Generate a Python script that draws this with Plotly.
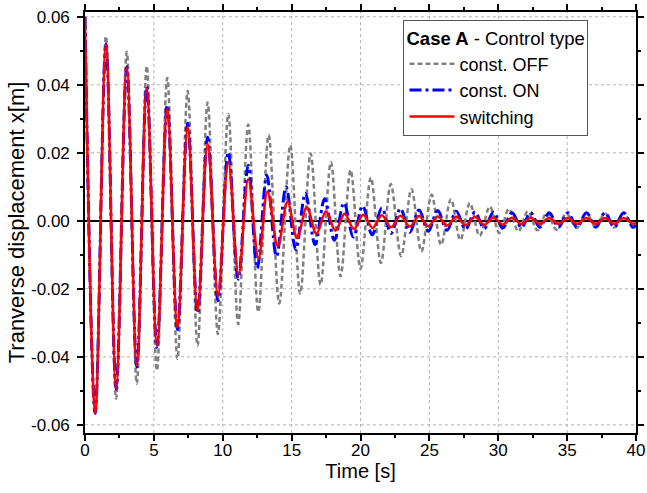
import plotly.graph_objects as go

# --- data (extrema of each response, interleaved peak/trough) ---
t_off = [0, 0.74, 1.52, 2.26, 3.03, 3.76, 4.48, 5.22, 5.97, 6.71, 7.45, 8.17, 8.90, 9.65,
         10.40, 11.12, 11.85, 12.58, 13.33, 14.10, 14.90, 15.62, 16.38, 17.10, 17.85, 18.55,
         19.28, 20.00, 20.75, 21.48, 22.20, 22.95, 23.70, 24.42, 25.16, 25.85, 26.56, 27.25,
         27.94, 28.65, 29.39, 30.08, 30.77, 31.46, 32.15, 32.85, 33.53, 34.22, 34.95, 35.70,
         36.40, 37.08, 37.75, 38.42, 39.10, 39.77, 40.00]
x_off = [0.0600, -0.0566, 0.0543, -0.0523, 0.0497, -0.0479, 0.0455, -0.0440, 0.0420, -0.0406,
         0.0382, -0.0367, 0.0348, -0.0333, 0.0314, -0.0304, 0.0283, -0.0268, 0.0252, -0.0243,
         0.0222, -0.0214, 0.0198, -0.0188, 0.0172, -0.0163, 0.0149, -0.0141, 0.0127, -0.0124,
         0.0108, -0.0104, 0.0093, -0.0090, 0.0077, -0.0071, 0.0063, -0.0056, 0.0052, -0.0044,
         0.0042, -0.0036, 0.0035, -0.0031, 0.0028, -0.0028, 0.0024, -0.0026, 0.0022, -0.0021,
         0.0023, -0.0020, 0.0023, -0.0020, 0.0023, -0.0020, -0.0012]

t_on = [0, 0.74, 1.52, 2.26, 3.03, 3.76, 4.48, 5.22, 5.97, 6.71, 7.45, 8.17, 8.90, 9.65,
        10.40, 11.12, 11.85, 12.50, 13.20, 13.90, 14.60, 15.30, 16.00, 16.70, 17.40, 18.10,
        18.80, 19.48, 20.15, 20.85, 21.55, 22.22, 22.90, 23.58, 24.25, 24.92, 25.60, 26.28,
        26.95, 27.62, 28.30, 28.98, 29.65, 30.32, 31.00, 31.68, 32.35, 33.02, 33.70, 34.38,
        35.05, 35.72, 36.40, 37.08, 37.75, 38.42, 39.10, 39.77, 40.00]
x_on = [0.0600, -0.0566, 0.0521, -0.0495, 0.0453, -0.0430, 0.0395, -0.0372, 0.0340, -0.0320,
        0.0287, -0.0272, 0.0246, -0.0235, 0.0202, -0.0172, 0.0163, -0.0140, 0.0134, -0.0105,
        0.0100, -0.0085, 0.0081, -0.0070, 0.0065, -0.0057, 0.0053, -0.0048, 0.0044, -0.0041,
        0.0038, -0.0037, 0.0036, -0.0034, 0.0032, -0.0031, 0.0030, -0.0028, 0.0028, -0.0025,
        0.0026, -0.0023, 0.0025, -0.0021, 0.0024, -0.0020, 0.0024, -0.0019, 0.0024, -0.0019,
        0.0024, -0.0019, 0.0024, -0.0019, 0.0024, -0.0019, 0.0024, -0.0019, -0.0012]

t_sw = [0, 0.74, 1.52, 2.26, 3.03, 3.76, 4.48, 5.22, 5.97, 6.71, 7.45, 8.17, 8.90, 9.65,
        10.40, 11.15, 11.85, 12.60, 13.25, 14.00, 14.70, 15.40, 16.10, 16.80, 17.50, 18.18,
        18.85, 19.52, 20.20, 20.88, 21.55, 22.22, 22.90, 23.58, 24.25, 24.92, 25.60, 26.28,
        26.95, 27.62, 28.30, 28.98, 29.65, 30.32, 31.00, 31.68, 32.35, 33.02, 33.70, 34.38,
        35.05, 35.72, 36.40, 37.08, 37.75, 38.42, 39.10, 39.77, 40.00]
x_sw = [0.0600, -0.0566, 0.0519, -0.0493, 0.0450, -0.0425, 0.0390, -0.0367, 0.0329, -0.0313,
        0.0277, -0.0265, 0.0227, -0.0221, 0.0173, -0.0158, 0.0122, -0.0110, 0.0086, -0.0074,
        0.0056, -0.0051, 0.0040, -0.0038, 0.0028, -0.0029, 0.0021, -0.0024, 0.0018, -0.0021,
        0.0016, -0.0019, 0.0015, -0.0017, 0.0014, -0.0016, 0.0013, -0.0014, 0.0012, -0.0013,
        0.0011, -0.0012, 0.0010, -0.0011, 0.0009, -0.0010, 0.0009, -0.0009, 0.0008, -0.0009,
        0.0008, -0.0009, 0.0008, -0.0009, 0.0008, -0.0009, 0.0008, -0.0009, -0.0005]

x_ticks = [0, 5, 10, 15, 20, 25, 30, 35, 40]
x_labels = ["0", "5", "10", "15", "20", "25", "30", "35", "40"]
x_minor = [2.5, 7.5, 12.5, 17.5, 22.5, 27.5, 32.5, 37.5]
y_ticks = [-0.06, -0.04, -0.02, 0.0, 0.02, 0.04, 0.06]
y_labels = ["-0.06", "-0.04", "-0.02", "0.00", "0.02", "0.04", "0.06"]
y_minor = [-0.05, -0.03, -0.01, 0.01, 0.03, 0.05]

FONT = "Liberation Sans, Arial, sans-serif"
X_RANGE = [0, 40]
Y_RANGE = [-0.0624, 0.0614]
GRID = dict(color="#b4b4b4", width=1, dash="dot")

fig = go.Figure()
fig.add_trace(go.Scatter(x=t_off, y=x_off, mode="lines", name="const. OFF",
                         line=dict(color="#808080", width=2.5, dash="5px,3px",
                                   shape="spline", smoothing=1.0)))
fig.add_trace(go.Scatter(x=t_on, y=x_on, mode="lines", name="const. ON",
                         line=dict(color="#0000ff", width=3, dash="12px,4px,3px,4px",
                                   shape="spline", smoothing=1.0)))
fig.add_trace(go.Scatter(x=t_sw, y=x_sw, mode="lines", name="switching",
                         line=dict(color="#ff0000", width=2.5,
                                   shape="spline", smoothing=1.0)))

# dotted grid only at the major ticks (frame edges and the zero line excluded)
for xv in x_ticks[1:-1]:
    fig.add_shape(type="line", xref="x", yref="paper", x0=xv, x1=xv, y0=0, y1=1,
                  line=GRID, layer="below")
for yv in y_ticks:
    if yv != 0:
        fig.add_shape(type="line", xref="paper", yref="y", x0=0, x1=1, y0=yv, y1=yv,
                      line=GRID, layer="below")


def minor_ticks(vals):
    return dict(tickmode="array", tickvals=vals, ticks="outside", ticklen=3,
                tickwidth=1.5, tickcolor="black", showgrid=False)


fig.update_layout(
    width=647, height=493, autosize=False,
    margin=dict(l=85, r=11, t=12, b=60),
    plot_bgcolor="white", paper_bgcolor="white",
    font=dict(family=FONT, size=17, color="black"),
    xaxis=dict(
        range=X_RANGE, tickmode="array", tickvals=x_ticks, ticktext=x_labels,
        ticks="outside", ticklen=6, tickwidth=1.5, tickcolor="black",
        minor=minor_ticks(x_minor),
        showline=True, linecolor="black", linewidth=1.6, mirror="allticks",
        showgrid=False, zeroline=False, automargin=False, ticklabelstandoff=-5,
        title=dict(text="Time [s]", font=dict(size=20), standoff=0),
        tickfont=dict(size=17),
    ),
    yaxis=dict(
        range=Y_RANGE, tickmode="array", tickvals=y_ticks, ticktext=y_labels,
        ticks="outside", ticklen=6, tickwidth=1.5, tickcolor="black",
        minor=minor_ticks(y_minor),
        showline=True, linecolor="black", linewidth=1.6, mirror="allticks",
        showgrid=False,
        zeroline=True, zerolinecolor="black", zerolinewidth=1.6,
        automargin=False, ticklabelstandoff=4,
        title=dict(text="Tranverse displacement x[m]", font=dict(size=22), standoff=0),
        tickfont=dict(size=17),
    ),
    legend=dict(
        x=0.578, y=0.98, xanchor="left", yanchor="top",
        bgcolor="white", bordercolor="#555555", borderwidth=1,
        font=dict(size=18, color="black"),
        title=dict(text="<b>Case A</b> - Control type", font=dict(size=18.5)),
        itemwidth=45, tracegroupgap=0, entrywidth=175,
    ),
    showlegend=True,
)

fig.write_html("out.html", config={"displayModeBar": False},
               post_script="document.body.style.margin='0';")
